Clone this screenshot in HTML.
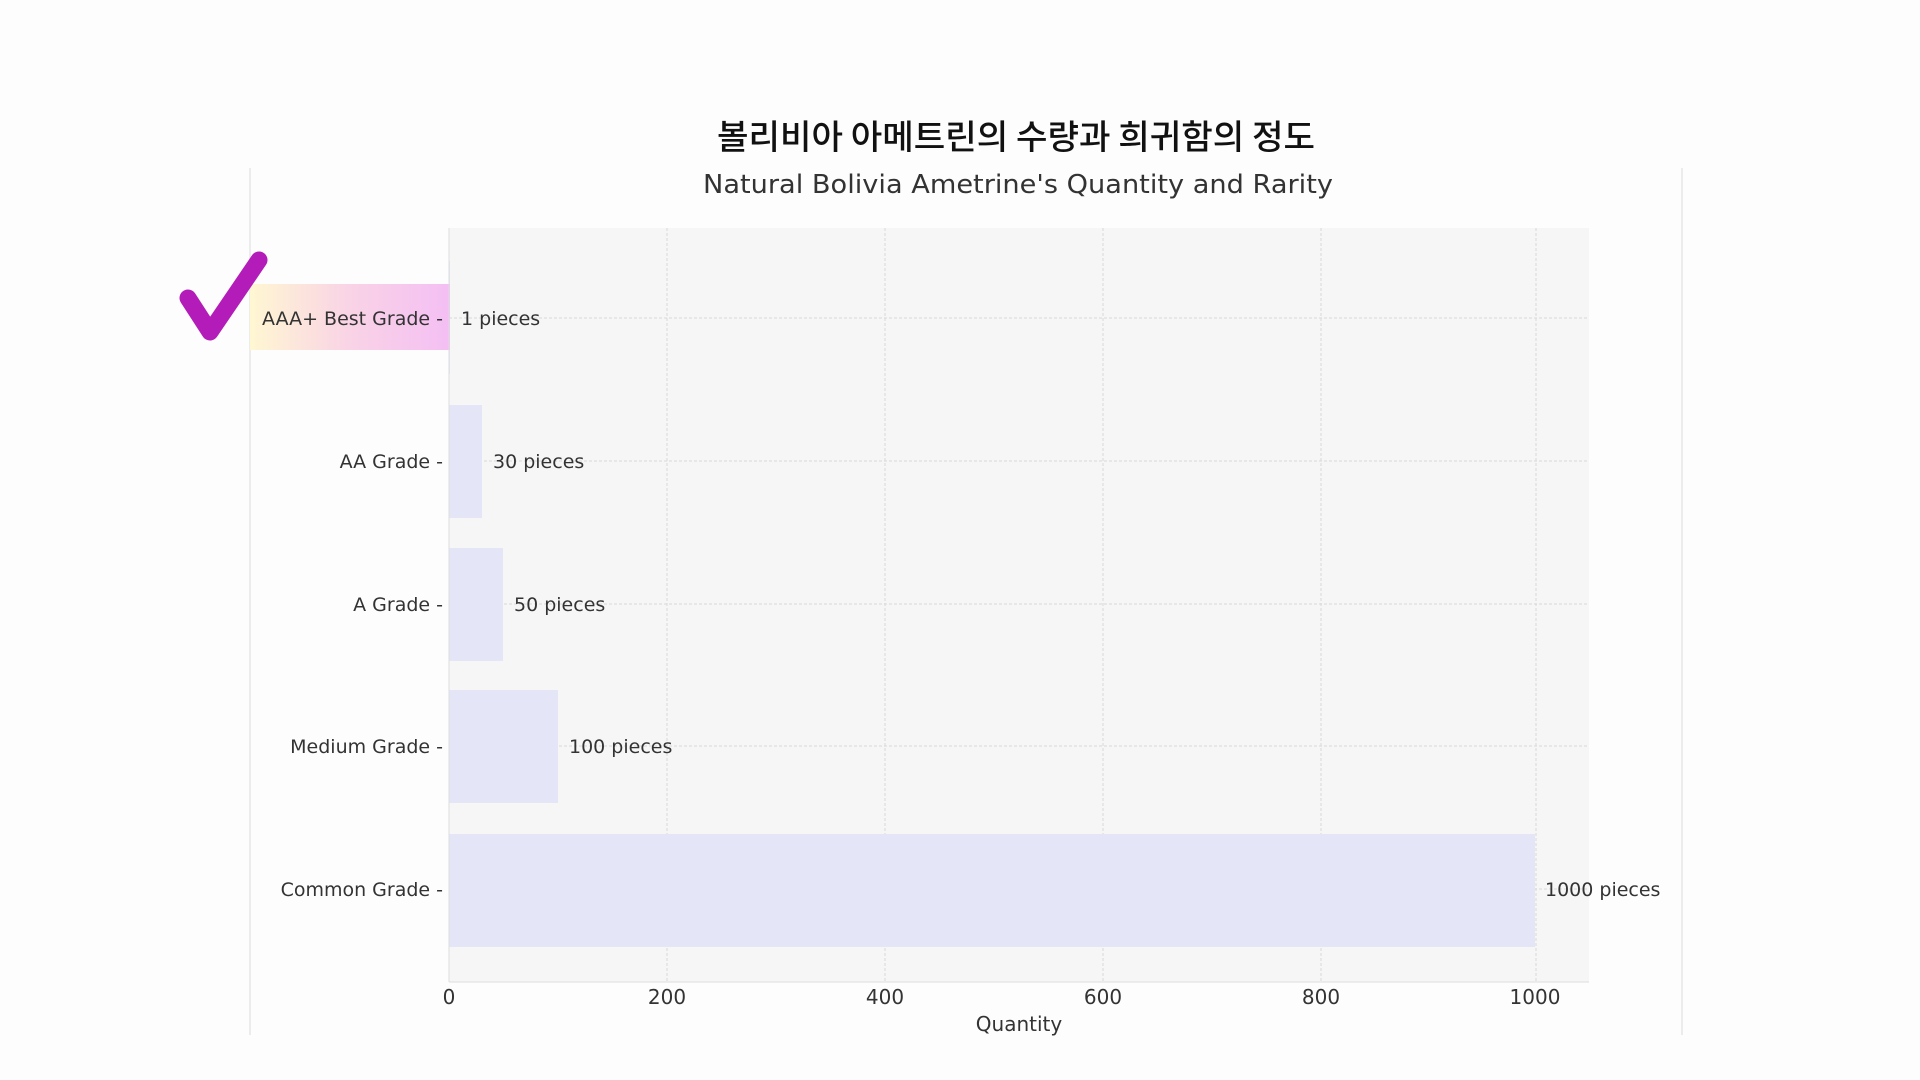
<!DOCTYPE html>
<html><head><meta charset="utf-8"><style>
html,body{margin:0;padding:0;background:#fdfdfd;}
svg{display:block;}
text{font-family:"DejaVu Sans","Liberation Sans","Noto Sans CJK KR",sans-serif;fill:#333;}
</style></head><body>
<svg width="1920" height="1080" viewBox="0 0 1920 1080">
<defs>
<linearGradient id="g" x1="0" x2="1" y1="0" y2="0">
<stop offset="0" stop-color="#fff7d2"/><stop offset="0.5" stop-color="#f9d3e6"/><stop offset="1" stop-color="#f4bff4"/>
</linearGradient>
</defs>
<rect width="1920" height="1080" fill="#fdfdfd"/>
<line x1="250" y1="168" x2="250" y2="1035" stroke="#e6e6e6" stroke-width="1.5"/>
<line x1="1682" y1="168" x2="1682" y2="1035" stroke="#e6e6e6" stroke-width="1.5"/>
<text x="1016" y="149" text-anchor="middle" font-size="34" textLength="598" lengthAdjust="spacingAndGlyphs" style="font-family:'Noto Sans CJK KR','NanumGothic',sans-serif;fill:#111;font-weight:500">볼리비아 아메트린의 수량과 희귀함의 정도</text>
<text x="1018" y="193" text-anchor="middle" font-size="26" fill="#444" textLength="630" lengthAdjust="spacingAndGlyphs">Natural Bolivia Ametrine's Quantity and Rarity</text>
<rect x="449" y="228" width="1140" height="754" fill="#f6f6f6"/>
<g stroke="#d8d8d8" stroke-width="1" stroke-dasharray="3,2">
<line x1="667" y1="228" x2="667" y2="982"/><line x1="885" y1="228" x2="885" y2="982"/>
<line x1="1103" y1="228" x2="1103" y2="982"/><line x1="1321" y1="228" x2="1321" y2="982"/>
<line x1="1536" y1="228" x2="1536" y2="982"/>
<line x1="449" y1="318" x2="1589" y2="318"/><line x1="449" y1="461" x2="1589" y2="461"/>
<line x1="449" y1="604" x2="1589" y2="604"/><line x1="449" y1="746" x2="1589" y2="746"/>
<line x1="449" y1="889" x2="1589" y2="889"/>
</g>
<g fill="#e5e5f8">
<rect x="449" y="261" width="1" height="113"/>
<rect x="449" y="405" width="33" height="113"/>
<rect x="449" y="548" width="54" height="113"/>
<rect x="449" y="690" width="109" height="113"/>
<rect x="449" y="834" width="1086" height="113"/>
</g>
<rect x="250" y="284" width="200" height="66" fill="url(#g)"/>
<line x1="449" y1="228" x2="449" y2="982" stroke="#ddd"/>
<line x1="449" y1="982" x2="1589" y2="982" stroke="#ddd"/>
<polyline points="188,298 210,332 259,260" fill="none" stroke="#b31cb8" stroke-width="17" stroke-linejoin="round" stroke-linecap="round"/>
<g font-size="19" text-anchor="end">
<text x="443" y="325">AAA+ Best Grade -</text>
<text x="443" y="468">AA Grade -</text>
<text x="443" y="611">A Grade -</text>
<text x="443" y="753">Medium Grade -</text>
<text x="443" y="896">Common Grade -</text>
</g>
<g font-size="19">
<text x="461" y="325">1 pieces</text>
<text x="493" y="468">30 pieces</text>
<text x="514" y="611">50 pieces</text>
<text x="569" y="753">100 pieces</text>
<text x="1545" y="896">1000 pieces</text>
</g>
<g font-size="20" text-anchor="middle">
<text x="449" y="1004">0</text><text x="667" y="1004">200</text><text x="885" y="1004">400</text>
<text x="1103" y="1004">600</text><text x="1321" y="1004">800</text><text x="1535" y="1004">1000</text>
<text x="1019" y="1031">Quantity</text>
</g>
</svg>
</body></html>
